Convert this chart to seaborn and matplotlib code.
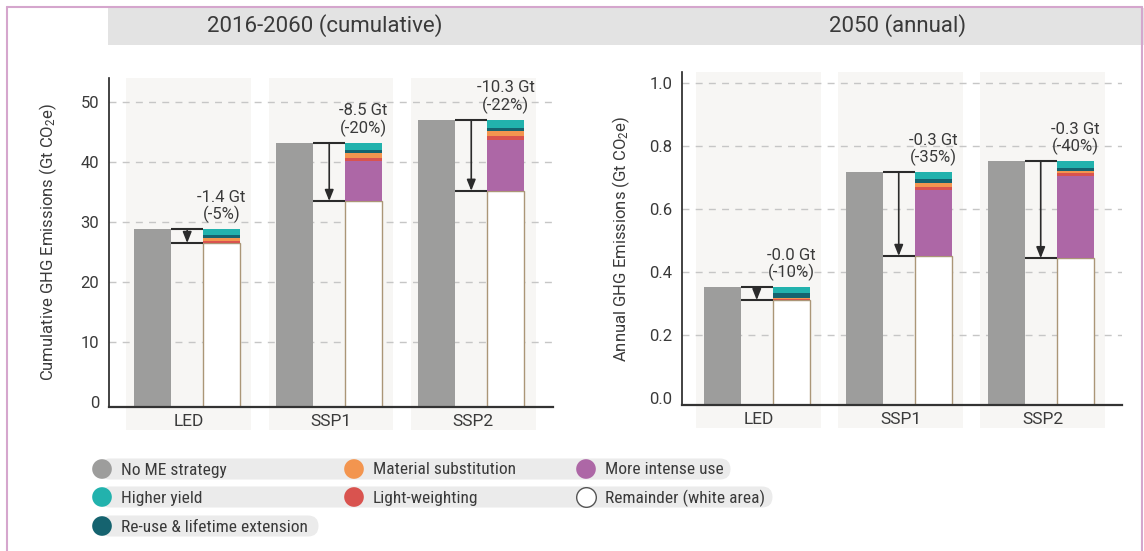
import matplotlib
matplotlib.use("Agg")
import matplotlib.pyplot as plt
from matplotlib.patches import FancyBboxPatch, Rectangle
from matplotlib import font_manager
import numpy as np
import pandas as pd
import seaborn as sns

scenarios = ["LED", "SSP1", "SSP2"]

# 2016-2060 cumulative (Gt CO2e)
cum_no_me = [28.8, 43.2, 47.0]
cum_remainder = [26.5, 33.5, 35.2]
cum_more_intense = [0.0, 6.7, 8.5]
cum_light_weight = [0.35, 0.5, 0.67]
cum_material_sub = [0.45, 0.83, 0.83]
cum_reuse = [0.5, 0.5, 0.5]
cum_higher_yield = [1.0, 1.17, 1.3]
cum_labels = ["-1.4 Gt\n(-5%)", "-8.5 Gt\n(-20%)", "-10.3 Gt\n(-22%)"]

# 2050 annual (Gt CO2e)
ann_no_me = [0.352, 0.717, 0.752]
ann_remainder = [0.311, 0.451, 0.444]
ann_more_intense = [0.0, 0.209, 0.261]
ann_light_weight = [0.004, 0.010, 0.009]
ann_material_sub = [0.004, 0.013, 0.007]
ann_reuse = [0.013, 0.013, 0.009]
ann_higher_yield = [0.020, 0.021, 0.022]
ann_labels = ["-0.0 Gt\n(-10%)", "-0.3 Gt\n(-35%)", "-0.3 Gt\n(-40%)"]

legend_labels = ["No ME strategy", "Higher yield", "Re-use & lifetime extension",
                 "Material substitution", "Light-weighting",
                 "More intense use", "Remainder (white area)"]

C_GRAY = "#9d9d9c"
C_TEAL = "#22b2ad"
C_DTEAL = "#15636f"
C_ORANGE = "#f3954f"
C_RED = "#d9534f"
C_PURPLE = "#ad67a6"
C_TAN = "#ab9677"
BG = "#f7f6f4"
GRID = "#c6c6c6"
LINE = "#2b2b2b"
TXT = "#3a3a3a"

legend_colors = [C_GRAY, C_TEAL, C_DTEAL, C_ORANGE, C_RED, C_PURPLE, "white"]

sns.set_theme(style="white")
plt.rcParams["font.family"] = ["Roboto", "DejaVu Sans"]
plt.rcParams["mathtext.fontset"] = "custom"
plt.rcParams["mathtext.rm"] = "Roboto"
plt.rcParams["mathtext.default"] = "rm"

names = {f.name for f in font_manager.fontManager.ttflist}
legend_font = "Roboto Condensed" if "Roboto Condensed" in names else "Roboto"

W, H = 1144, 551
GRAY_OFF, STACK_OFF, BAR_W = -0.255, 0.23, 0.26


def draw_panel(ax, no_me, remainder, segs, labels, ylim, yticks, fmt, ylabel, xlim):
    base = ylim[0]
    pos = np.arange(len(scenarios))
    for p in pos:
        ax.axvspan(p - 0.44, p + 0.44, ymin=-0.07, ymax=1.0, color=BG, lw=0,
                   zorder=0, clip_on=False)
    for t in yticks[1:]:
        ax.axhline(t, color=GRID, lw=1, ls=(0, (5, 4.5)), zorder=0.5)

    # baseline bars
    df = pd.DataFrame({"x": pos + GRAY_OFF, "h": np.array(no_me) - base})
    sns.barplot(data=df, x="x", y="h", native_scale=True, orient="x", width=BAR_W,
                color=C_GRAY, saturation=1, errorbar=None, bottom=base,
                linewidth=0, zorder=2, ax=ax)

    # stacked bars: remainder then strategies
    bottom = np.full(len(scenarios), base)
    rem = np.array(remainder)
    df = pd.DataFrame({"x": pos + STACK_OFF, "h": rem - base})
    sns.barplot(data=df, x="x", y="h", native_scale=True, orient="x", width=BAR_W,
                color="white", saturation=1, errorbar=None, bottom=bottom,
                edgecolor=C_TAN, linewidth=1, zorder=2, ax=ax)
    bottom = rem.copy()
    for vals, col in segs:
        vals = np.array(vals)
        df = pd.DataFrame({"x": pos + STACK_OFF, "h": vals})
        sns.barplot(data=df, x="x", y="h", native_scale=True, orient="x", width=BAR_W,
                    color=col, saturation=1, errorbar=None, bottom=bottom.copy(),
                    linewidth=0, zorder=2.5, ax=ax)
        bottom = bottom + vals

    # reduction arrows
    gl = pos + GRAY_OFF + BAR_W / 2
    gr = pos + STACK_OFF - BAR_W / 2
    mid = (gl + gr) / 2
    ax.hlines(no_me, gl, gr, color=LINE, lw=1.5, zorder=3)
    ax.hlines(remainder, gl, gr, color=LINE, lw=1.5, zorder=3)
    for i in range(len(scenarios)):
        ax.annotate("", xy=(mid[i], remainder[i]), xytext=(mid[i], no_me[i]),
                    arrowprops=dict(arrowstyle="-|>,head_length=0.55,head_width=0.22",
                                    color=LINE, lw=1.2, shrinkA=0, shrinkB=0),
                    zorder=3)
        ax.annotate(labels[i], xy=(pos[i] + STACK_OFF, bottom[i]), xytext=(0, 6),
                    textcoords="offset pixels", ha="center", va="bottom",
                    fontsize=12, color=TXT, linespacing=1.1)

    ax.set_xlim(*xlim)
    ax.set_ylim(*ylim)
    ax.set_yticks(yticks)
    ax.set_yticklabels([fmt.format(t) for t in yticks])
    ax.set_xticks(pos)
    ax.set_xticklabels(scenarios)
    ax.set_xlabel("")
    ax.set_ylabel(ylabel, fontsize=12, color=TXT)
    ax.yaxis.set_label_coords(-0.113, 0.5)
    ax.tick_params(axis="y", length=0, pad=7, labelsize=12, labelcolor=TXT)
    ax.tick_params(axis="x", length=0, pad=5, labelsize=12.5, labelcolor=TXT)
    for s in ("top", "right"):
        ax.spines[s].set_visible(False)
    ax.spines["left"].set_color("#222222")
    ax.spines["left"].set_linewidth(1.2)
    ax.spines["bottom"].set_color("#333333")
    ax.spines["bottom"].set_linewidth(1.6)
    ax.patch.set_alpha(0)


fig = plt.figure(figsize=(W / 100, H / 100), dpi=100)
fig.patch.set_facecolor("white")

ov = fig.add_axes([0, 0, 1, 1], zorder=0)
ov.axis("off")
ov.add_patch(Rectangle((108, 8), W - 108, 37, color="#e3e3e3", lw=0))
pink = "#d5a6cd"
ov.plot([7, 7], [7, H], color=pink, lw=1.5)
ov.plot([7, 1142], [7, 7], color=pink, lw=1.5)
ov.plot([1142, 1142], [7, H], color=pink, lw=1.5)
ov.text(325, 26, "2016-2060 (cumulative)", ha="center", va="center", fontsize=16, color=TXT)
ov.text(898, 26, "2050 (annual)", ha="center", va="center", fontsize=16, color=TXT)

# legend rows as rounded pills
for (x0, x1, yc) in [(89, 741, 469), (89, 783, 497), (89, 329, 526)]:
    ov.add_patch(FancyBboxPatch((x0 + 10.5, yc - 10.5), x1 - x0 - 21, 21,
                                boxstyle="round,pad=0,rounding_size=10.5",
                                fc="#ebebeb", ec="none", lw=0))
legend_xy = [(102, 469), (102, 497), (102, 526), (354, 469), (354, 497), (586, 469), (586, 497)]
for (cx, cy), lab, col in zip(legend_xy, legend_labels, legend_colors):
    ov.scatter([cx], [cy], s=200, color=col, edgecolors="#555555" if col == "white" else "none",
               linewidths=1, zorder=3)
    ov.text(cx + 19, cy + 1, lab, ha="left", va="center", fontsize=12.5,
            color=TXT, family=[legend_font, "DejaVu Sans"])
ov.set_xlim(0, W)
ov.set_ylim(H, 0)

ax1 = fig.add_axes([109 / W, (H - 407) / H, 444 / W, 329 / H], zorder=1)
draw_panel(ax1, cum_no_me, cum_remainder,
           [(cum_more_intense, C_PURPLE), (cum_light_weight, C_RED),
            (cum_material_sub, C_ORANGE), (cum_reuse, C_DTEAL), (cum_higher_yield, C_TEAL)],
           cum_labels, (-0.83, 54), [0, 10, 20, 30, 40, 50], "{:.0f}",
           "Cumulative GHG Emissions (Gt CO$_2$e)", (-0.563, 2.563))

ax2 = fig.add_axes([682 / W, (H - 405) / H, 440 / W, 333 / H], zorder=1)
draw_panel(ax2, ann_no_me, ann_remainder,
           [(ann_more_intense, C_PURPLE), (ann_light_weight, C_RED),
            (ann_material_sub, C_ORANGE), (ann_reuse, C_DTEAL), (ann_higher_yield, C_TEAL)],
           ann_labels, (-0.022, 1.035), [0.0, 0.2, 0.4, 0.6, 0.8, 1.0], "{:.1f}",
           "Annual GHG Emissions (Gt CO$_2$e)", (-0.539, 2.56))

fig.savefig("out.png", dpi=100)
